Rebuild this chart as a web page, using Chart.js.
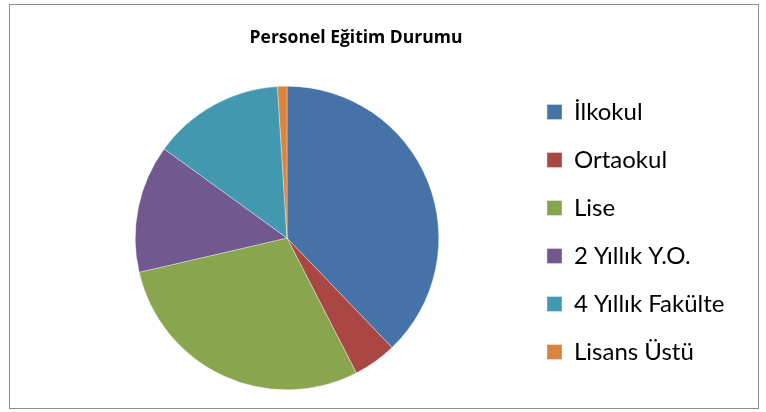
<!DOCTYPE html>
<html>
<head>
<meta charset="utf-8">
<script src="https://cdn.jsdelivr.net/npm/chart.js@4"></script>
<style>
  html, body { margin: 0; padding: 0; background: #ffffff; }
  #wrap { position: relative; width: 766px; height: 412px; }
  #frame { position: absolute; left: 9px; top: 4px; width: 748px; height: 403px; border: 1px solid #8c8c8c; pointer-events: none; }
  canvas { position: absolute; left: 0; top: 0; }
</style>
</head>
<body>
<div id="wrap">
  <canvas id="c" width="766" height="412"></canvas>
  <div id="frame"></div>
</div>
<script>
const titleText = 'Personel Eğitim Durumu';
const categories = ['İlkokul', 'Ortaokul', 'Lise', '2 Yıllık Y.O.', '4 Yıllık Fakülte', 'Lisans Üstü'];
const shares = [37.8, 4.6, 28.9, 13.6, 14.0, 1.0];
const sliceColors = ['#4572A7', '#AA4643', '#89A54E', '#71588F', '#4198AF', '#DB843D'];

const legendFont = 24;
const boxSize = 15;
const legendPad = 24;
const legendLeftTarget = 523;   // legend box left edge (items start at + padding)
const pieCenterX = 287;
const titleCenterX = 356;

const titleShift = {
  id: 'titleShift',
  afterLayout(chart) {
    const t = chart.titleBlock;
    if (!t) return;
    const w = t.right - t.left;
    t.left = titleCenterX - w / 2;
    t.right = titleCenterX + w / 2;
  }
};

const chart = new Chart(document.getElementById('c'), {
  type: 'pie',
  data: {
    labels: categories,
    datasets: [{
      data: shares,
      backgroundColor: sliceColors,
      borderColor: 'rgba(255,255,255,0.7)',
      borderWidth: 0.5,
      hoverOffset: 0
    }]
  },
  options: {
    responsive: false,
    animation: false,
    layout: { padding: { left: 2 * pieCenterX - legendLeftTarget, right: 30, top: 0, bottom: 22 } },
    plugins: {
      tooltip: { enabled: false },
      title: {
        display: true,
        text: titleText,
        color: '#000000',
        font: { family: 'Open Sans', size: 17.5, weight: 'bold', lineHeight: 1.2 },
        padding: { top: 27.5, bottom: 37.5 }
      },
      legend: {
        position: 'right',
        align: 'start',
        title: { display: true, text: ' ', font: { size: 10, lineHeight: 1 }, padding: { top: 66, bottom: 0 } },
        labels: {
          color: '#000000',
          font: { family: 'Lato', size: legendFont },
          boxWidth: boxSize,
          boxHeight: boxSize,
          padding: legendPad
        }
      }
    }
  },
  plugins: [titleShift]
});

const dx = chart.legend.left - legendLeftTarget;
if (Math.abs(dx) > 0.1) {
  chart.options.layout.padding.right += dx;
  chart.update();
}
</script>
</body>
</html>
